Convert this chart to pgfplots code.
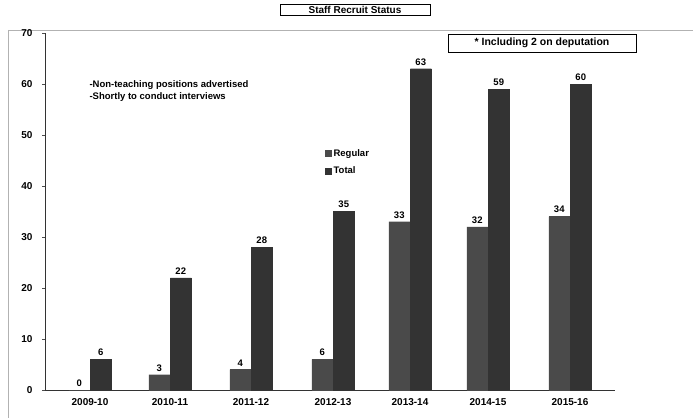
\documentclass[border=0pt]{standalone}
\usepackage{pgfplots}
\pgfplotsset{compat=1.18}
\usepackage{fontspec}
\setmainfont{Liberation Sans}
\definecolor{regc}{HTML}{4A4A4A}
\definecolor{totc}{HTML}{333333}
\begin{document}
\begin{tikzpicture}[x=1pt,y=1pt]
\useasboundingbox (0,0) rectangle (693,418);
\clip (0,0) rectangle (693,418);
\draw[gray!60, line width=0.8pt] (8,388) -- (693,388);
\draw[gray!60, line width=0.8pt] (8,388) -- (8,0);
\node[draw, line width=1pt, font=\bfseries\fontsize{10}{11}\selectfont, inner sep=2pt, minimum width=150pt] at (355,408) {Staff Recruit Status};
\begin{axis}[
  at={(45pt,28pt)}, anchor=south west,
  width=570pt, height=357pt, scale only axis,
  xmin=45, xmax=615, ymin=0, ymax=70,
  axis x line=bottom, axis y line=left,
  axis line style={-, black!80, line width=0.8pt},
  ybar=0.5pt, bar width=21pt,
  xtick={90,170,251,333,410,488,570},
  xticklabels={2009-10,2010-11,2011-12,2012-13,2013-14,2014-15,2015-16},
  x tick style={draw=none},
  ytick={0,10,...,70},
  tick align=outside, major tick length=3pt,
  y tick style={black!70},
  yticklabel style={xshift=-6pt, font=\bfseries\fontsize{10}{11}\selectfont},
  xticklabel style={font=\bfseries\fontsize{10}{11}\selectfont, yshift=-2pt},
  /pgf/number format/assume math mode=true,
  nodes near coords,
  every node near coord/.append style={font=\bfseries\fontsize{9.5}{10}\selectfont, black},
  clip=false,
  legend cell align=left,
  legend style={at={(axis cs:322,48)}, anchor=north west, draw=none, fill=none,
    font=\bfseries\fontsize{9.5}{10}\selectfont, row sep=5pt},
  legend image code/.code={\fill[#1] (0pt,-3pt) rectangle (6pt,3pt);},
]
\addplot[fill=regc, draw=regc] coordinates {(90,0) (170,3) (251,4) (333,6) (410,33) (488,32) (570,34)};
\addplot[fill=totc, draw=totc] coordinates {(90,6) (170,22) (251,28) (333,35) (410,63) (488,59) (570,60)};
\legend{Regular, Total}
\node[anchor=west, font=\bfseries\fontsize{9.5}{10}\selectfont] at (axis cs:86,59.8) {-Non-teaching positions advertised};
\node[anchor=west, font=\bfseries\fontsize{9.5}{10}\selectfont] at (axis cs:86,57.4) {-Shortly to conduct interviews};
\node[draw, line width=1pt, font=\bfseries\fontsize{10.5}{11}\selectfont, inner sep=3pt, minimum width=188pt, minimum height=18pt] at (axis cs:542,68) {* Including 2 on deputation};
\end{axis}
\end{tikzpicture}
\end{document}
